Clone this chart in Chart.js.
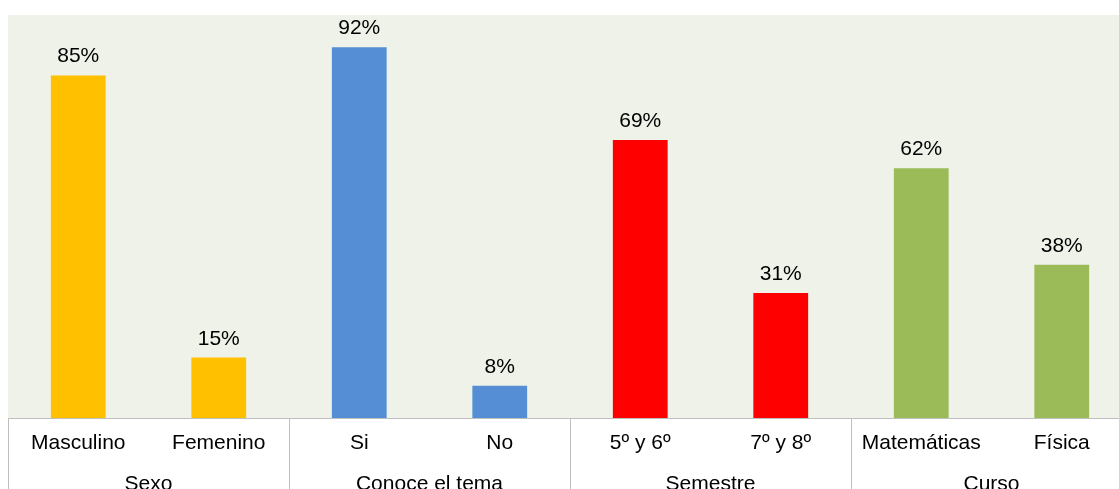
<!DOCTYPE html>
<html>
<head>
<meta charset="utf-8">
<script src="https://cdn.jsdelivr.net/npm/chart.js@4/dist/chart.umd.min.js"></script>
<style>
  html, body { margin: 0; padding: 0; background: #fff; overflow: hidden; }
  #wrap { width: 1140px; height: 489px; }
</style>
</head>
<body>
<div id="wrap"><canvas id="chartBar" width="1140" height="489"></canvas></div>
<script>
// respuestas por categoria (%)
var categorias = ['Masculino', 'Femenino', 'Si', 'No', '5º y 6º', '7º y 8º', 'Matemáticas', 'Física'];
var grupos = ['Sexo', 'Conoce el tema', 'Semestre', 'Curso'];
var porcentajes = [85, 15, 92, 8, 69, 31, 62, 38];
var colores = ['#FFC000', '#FFC000', '#558ED5', '#558ED5', '#FF0000', '#FF0000', '#9BBB59', '#9BBB59'];

Chart.defaults.font.family = '"Liberation Sans", Arial, sans-serif';
Chart.defaults.color = '#000';

// fondo del area del grafico
var fondo = {
  id: 'fondo',
  beforeDraw: function (chart) {
    var a = chart.chartArea, c = chart.ctx;
    c.save();
    c.fillStyle = '#EFF2E9';
    c.fillRect(a.left, a.top, a.right - a.left, a.bottom - a.top);
    c.restore();
  }
};

// etiquetas de valor encima de cada barra
var etiquetas = {
  id: 'etiquetas',
  afterDatasetsDraw: function (chart) {
    var c = chart.ctx;
    var meta = chart.getDatasetMeta(0);
    c.save();
    c.font = '21px "Liberation Sans", Arial, sans-serif';
    c.fillStyle = '#000';
    c.textAlign = 'center';
    c.textBaseline = 'alphabetic';
    meta.data.forEach(function (bar, i) {
      c.fillText(porcentajes[i] + '%', bar.x, bar.y - 13);
    });
    c.restore();
  }
};

// lineas que separan los grupos debajo del eje
var separadores = {
  id: 'separadores',
  afterDraw: function (chart) {
    var x = chart.scales.x, c = chart.ctx;
    var paso = (x.getPixelForValue(1) - x.getPixelForValue(0));
    c.save();
    c.strokeStyle = '#BFBFBF';
    c.lineWidth = 1;
    for (var k = 0; k <= grupos.length; k++) {
      var px = Math.round(x.getPixelForValue(k * 2) - paso / 2) + 0.5;
      c.beginPath();
      c.moveTo(px, chart.chartArea.bottom);
      c.lineTo(px, chart.height);
      c.stroke();
    }
    c.restore();
  }
};

var ctx = document.getElementById('chartBar');
var chartBar = new Chart(ctx, {
  type: 'bar',
  data: {
    labels: categorias,
    datasets: [{
      data: porcentajes,
      backgroundColor: colores,
      barPercentage: 0.39,
      categoryPercentage: 1
    }]
  },
  options: {
    responsive: false,
    animation: false,
    layout: { padding: { left: 8, top: 15, right: 8, bottom: 0 } },
    plugins: { legend: { display: false }, tooltip: { enabled: false } },
    scales: {
      y: { display: false, min: 0, max: 100 },
      x: {
        grid: { display: false, drawTicks: false },
        border: { display: true, color: '#BFBFBF' },
        ticks: { font: { size: 21 }, padding: 13, maxRotation: 0, autoSkip: false },
        afterFit: function (scale) { scale.height = 40; }
      },
      x2: {
        type: 'category',
        position: 'bottom',
        labels: grupos,
        offset: true,
        grid: { display: false, drawTicks: false },
        border: { display: false },
        ticks: { font: { size: 21 }, padding: 14, maxRotation: 0 },
        afterFit: function (scale) { scale.height = 31; }
      }
    }
  },
  plugins: [fondo, etiquetas, separadores]
});
</script>
</body>
</html>
